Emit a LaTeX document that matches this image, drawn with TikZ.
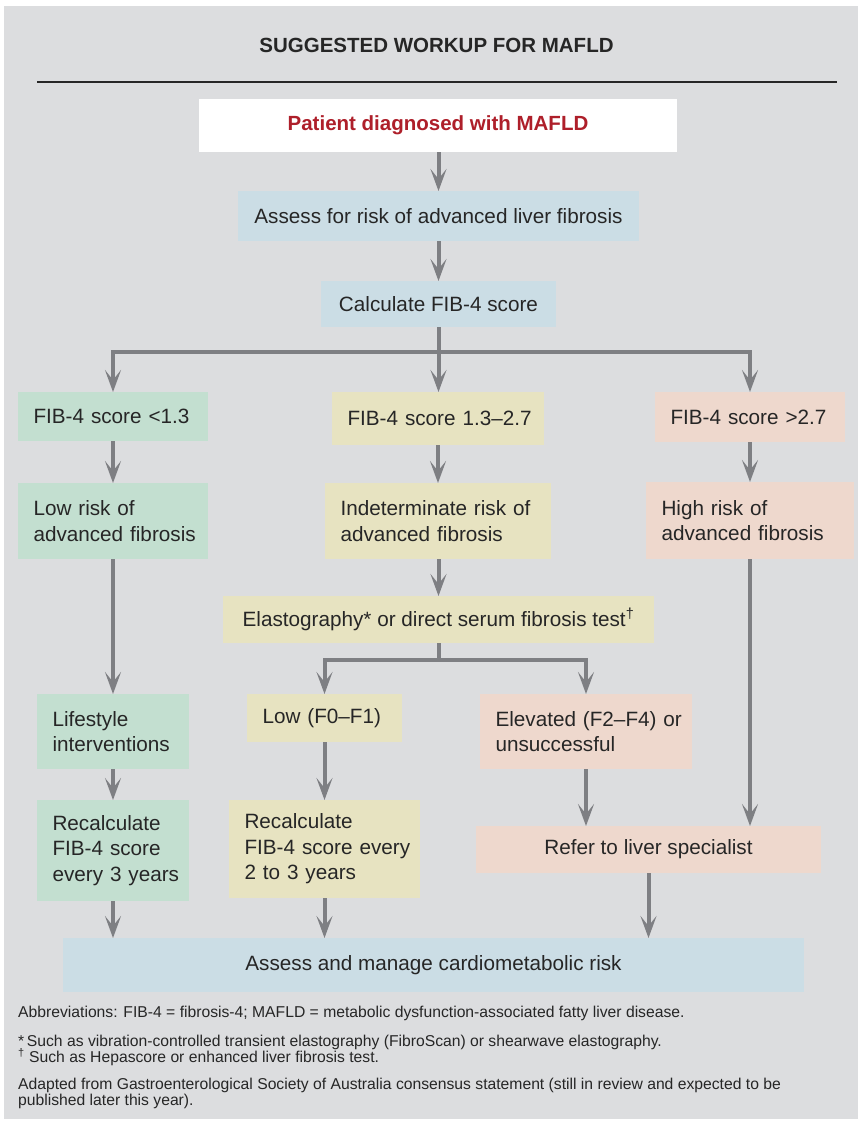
\documentclass[tikz,border=0pt]{standalone}
\usepackage{fontspec}
\setmainfont{Liberation Sans}
\usetikzlibrary{arrows.meta}
\definecolor{bggray}{HTML}{DCDDDF}
\definecolor{gfill}{HTML}{C3DFD0}
\definecolor{yfill}{HTML}{E7E3C1}
\definecolor{pfill}{HTML}{EED8CD}
\definecolor{bfill}{HTML}{CBDDE5}
\definecolor{arrgray}{HTML}{7E7F83}
\definecolor{redtxt}{HTML}{AE1F2A}
\definecolor{txt}{HTML}{262626}
\tikzset{
  base/.style={anchor=north west, inner ysep=0pt, outer sep=0pt, text=txt,
    font=\fontsize{20.7}{25.5}\selectfont},
  lbox/.style={base, align=left, inner xsep=15.5pt},
  cbox/.style={base, align=center, inner xsep=0pt},
  arr/.style={draw=arrgray, line width=4pt,
    -{Stealth[length=22pt,width=16pt,inset=10pt]}},
  ln/.style={draw=arrgray, line width=4pt},
}
\newcommand{\ml}[1]{\mbox{#1}}
\begin{document}
\begin{tikzpicture}[x=1pt,y=-1pt]
\useasboundingbox (0,0) rectangle (858,1122);
\fill[white] (0,0) rectangle (858,1122);
\fill[bggray] (4,6) rectangle (858,1119);
% title
\node[text=txt, font=\bfseries\fontsize{20.5}{24}\selectfont] (title) at (436.5,45.5) {SUGGESTED WORKUP FOR MAFLD};
\draw[line width=1.3pt, txt] (37,82) -- (837,82);
% nodes
\node[cbox, fill=white, minimum width=478, minimum height=53, text=redtxt, font=\bfseries\fontsize{20.5}{25}\selectfont] (patient) at (199,99) {Patient diagnosed with MAFLD};
\node[cbox, fill=bfill, minimum width=401, minimum height=50] (assess) at (238,191) {Assess for risk of advanced liver fibrosis};
\node[cbox, fill=bfill, minimum width=235, minimum height=46] (calc) at (321,281) {Calculate FIB-4 score};
\node[lbox, fill=gfill, text width=159pt, minimum height=49] (fib1) at (18,392) {\ml{FIB-4 score <1.3}};
\node[lbox, fill=yfill, text width=181pt, minimum height=53] (fib2) at (332,392) {\ml{FIB-4 score 1.3–2.7}};
\node[lbox, fill=pfill, text width=159pt, minimum height=50] (fib3) at (655,392) {\ml{FIB-4 score >2.7}};
\node[lbox, fill=gfill, text width=159pt, minimum height=76] (low) at (18,483) {\ml{Low risk of}\\\ml{advanced fibrosis}};
\node[lbox, fill=yfill, text width=195pt, minimum height=76] (indet) at (325,483) {\ml{Indeterminate risk of}\\\ml{advanced fibrosis}};
\node[lbox, fill=pfill, text width=177pt, minimum height=77] (high) at (646,482) {\ml{High risk of}\\\ml{advanced fibrosis}};
\node[cbox, fill=yfill, minimum width=431, minimum height=47] (elast) at (223,596) {Elastography* or direct serum fibrosis test\textsuperscript{†}};
\node[lbox, fill=yfill, text width=124pt, minimum height=48] (lowf) at (247,694) {\ml{Low (F0–F1)}};
\node[lbox, fill=pfill, text width=181pt, minimum height=75] (elev) at (480,694) {\ml{Elevated (F2–F4) or}\\\ml{unsuccessful}};
\node[lbox, fill=gfill, text width=121pt, minimum height=75] (life) at (37,694) {\ml{Lifestyle}\\\ml{interventions}};
\node[lbox, fill=gfill, text width=121pt, minimum height=101] (recalc1) at (37,800) {\ml{Recalculate}\\\ml{FIB-4 score}\\\ml{every 3 years}};
\node[lbox, fill=yfill, text width=160pt, minimum height=98] (recalc2) at (229,800) {\ml{Recalculate}\\\ml{FIB-4 score every}\\\ml{2 to 3 years}};
\node[cbox, fill=pfill, minimum width=345, minimum height=47] (refer) at (476,826) {Refer to liver specialist};
\node[cbox, fill=bfill, minimum width=741, minimum height=54] (cardio) at (63,938) {Assess and manage cardiometabolic risk};
% connectors
\draw[arr] (patient.south -| assess.north) -- (assess.north);
\draw[arr] (assess.south -| calc.north) -- (calc.north);
\draw[ln] (calc.south) -- ++(0,25) coordinate (split1);
\draw[arr] (split1) -| (fib1.north);
\draw[arr] (split1) -| (fib3.north);
\draw[arr] (calc.south) -- (calc.south |- fib2.north);
\draw[arr] (fib1.south) -- (fib1.south |- low.north);
\draw[arr] (fib2.south) -- (fib2.south |- indet.north);
\draw[arr] (fib3.south -| high.north) -- (high.north);
\draw[arr] (indet.south -| elast.north) -- (elast.north);
\draw[ln] (elast.south) -- ++(0,17) coordinate (split2);
\draw[arr] (split2) -| (lowf.north);
\draw[arr] (split2) -| (elev.north);
\draw[arr] (low.south -| life.north) -- (life.north);
\draw[arr] (life.south) -- (recalc1.north);
\draw[arr] (lowf.south) -- (lowf.south |- recalc2.north);
\draw[arr] (elev.south) -- (elev.south |- refer.north);
\draw[arr] (high.south) -- (high.south |- refer.north);
\draw[arr] (recalc1.south) -- (recalc1.south |- cardio.north);
\draw[arr] (recalc2.south) -- (recalc2.south |- cardio.north);
\draw[arr] (refer.south) -- (refer.south |- cardio.north);
% footnotes
\begin{scope}[every node/.style={anchor=base west, inner sep=0pt, text=txt, font=\fontsize{15.7}{19}\selectfont}]
\node (n1) at (18,1017) {Abbreviations: FIB-4 = fibrosis-4; MAFLD = metabolic dysfunction-associated fatty liver disease.};
\node (n2) at (18,1046) {*\,Such as vibration-controlled transient elastography (FibroScan) or shearwave elastography.};
\node (n3) at (18,1062) {\textsuperscript{†}\ Such as Hepascore or enhanced liver fibrosis test.};
\node (n4) at (18,1089) {Adapted from Gastroenterological Society of Australia consensus statement (still in review and expected to be};
\node (n5) at (18,1105) {published later this year).};
\end{scope}
\end{tikzpicture}
\end{document}
